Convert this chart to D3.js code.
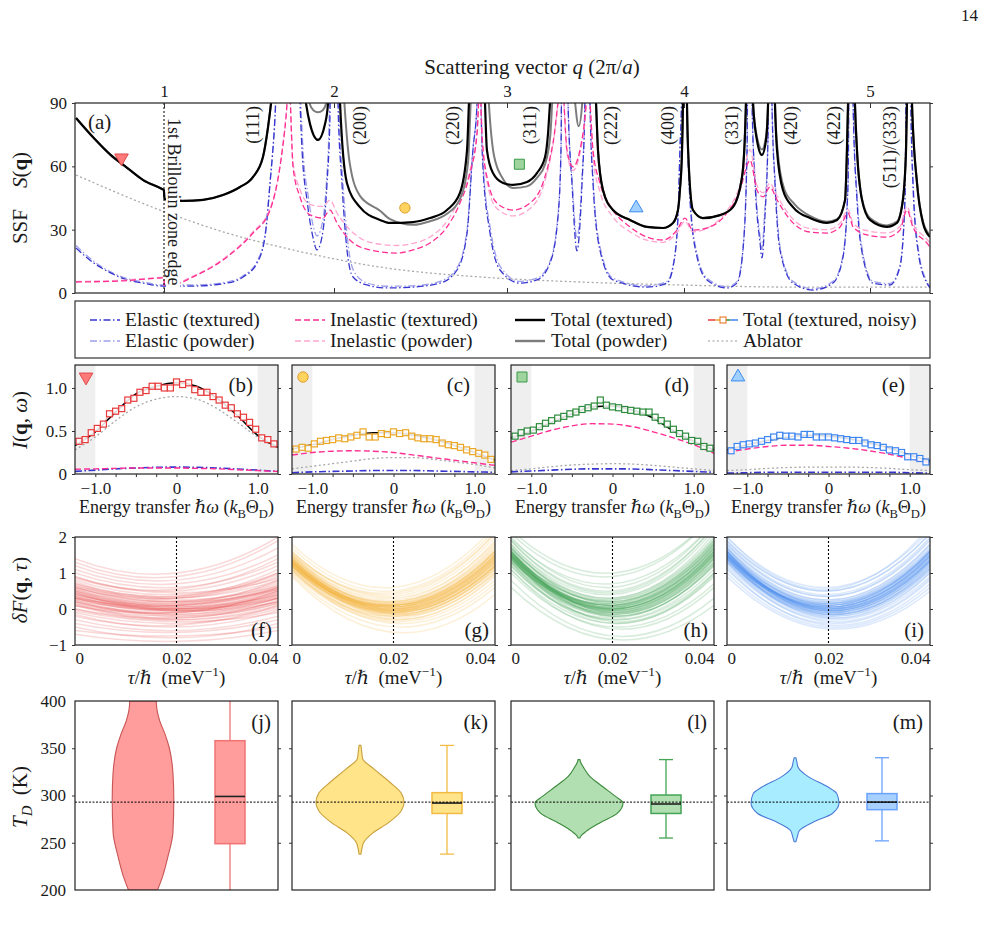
<!DOCTYPE html>
<html>
<meta charset="utf-8">
<style>
    body { margin: 0; background: #fff; }
    text { font-family: 'Liberation Serif', 'DejaVu Serif', serif; fill: #1a1a1a; }
    .tl { font-size: 17px; }
    .lab { font-size: 21px; }
    .leg { font-size: 19.5px; }
    .ann { font-size: 18px; }
    .xt { font-size: 18px; }
    .yt { font-size: 21px; }
</style>
<body>
<svg id="chart" width="985" height="930"></svg>
<script src="https://d3js.org/d3.v7.min.js"></script>
<script>

// ---------- (a) static structure factor, [q (2pi/a), S(q)] ----------
const qTicks = [1, 2, 3, 4, 5];
const ssfTicks = [0, 30, 60, 90];

const ablatorSSF = [[0.476,55.9],[0.976,39.3],[1.371,28.4],[1.759,20.4],[2.306,11.8],[2.844,7.6],[3.412,5.2],[3.977,3.8],[4.586,2.8],[5.323,2.8]];

const elasticTextured = [[0.476,21.3],[0.582,14.2],[0.682,9.5],[0.782,6.2],[0.876,4.7],[0.988,3.3],[1.171,3.3],[1.371,4.7],[1.465,7.6],[1.547,14.2],[1.594,26.5],[1.624,52.1],[1.653,83.4],[1.73,300],[1.8,90],[1.812,67.7],[1.841,44.1],[1.876,26.5],[1.9,20.4],[1.929,26.5],[1.959,52.1],[1.976,83.4],[2.0,300],[2.023,90],[2.046,52.1],[2.075,20.4],[2.11,7.6],[2.191,3.8],[2.306,2.4],[2.457,2.8],[2.613,4.7],[2.711,10.9],[2.769,28.4],[2.803,67.7],[2.827,90],[2.835,300],[2.85,90],[2.861,59.7],[2.902,28.4],[2.96,10.9],[3.073,4.7],[3.169,6.2],[3.243,14.2],[3.288,36],[3.305,67.7],[3.32,300],[3.345,90],[3.367,52.1],[3.395,20],[3.424,52.1],[3.44,90],[3.455,300],[3.469,90],[3.486,52.1],[3.525,20.4],[3.599,6.2],[3.791,2.8],[3.904,4.7],[3.938,12.3],[3.966,36],[3.977,67.7],[3.986,90],[4.0,300],[4.016,90],[4.032,44.1],[4.07,17.1],[4.124,6.2],[4.231,2.4],[4.285,4.7],[4.317,20.4],[4.339,67.7],[4.352,300],[4.366,90],[4.382,52.1],[4.409,23.7],[4.419,16.6],[4.435,36],[4.452,75.8],[4.465,300],[4.473,90],[4.489,52.1],[4.516,20.4],[4.586,4.7],[4.694,1.4],[4.801,4.7],[4.855,17.1],[4.882,52.1],[4.898,300],[4.909,90],[4.93,44.1],[4.962,17.1],[5.016,4.7],[5.108,3.8],[5.161,12.3],[5.188,44.1],[5.21,300],[5.22,90],[5.231,52.1],[5.258,20.4],[5.306,4.7],[5.323,2.4]];

const elasticPowder = [[0.476,22.5],[0.582,15],[0.682,10],[0.782,6.8],[0.876,5.2],[0.988,3.8],[1.171,3.8],[1.371,5.2],[1.465,8.2],[1.547,15],[1.594,27.5],[1.624,53],[1.653,84],[1.73,300],[1.805,90],[1.818,67.7],[1.848,46],[1.88,31],[1.9,27],[1.925,31],[1.955,52],[1.972,84],[2.0,300],[2.028,90],[2.052,52],[2.083,22],[2.12,9.5],[2.2,4.5],[2.306,3.2],[2.457,3.4],[2.613,5.5],[2.711,12],[2.769,30],[2.803,68],[2.827,90],[2.835,300],[2.85,90],[2.863,60],[2.905,30],[2.965,12],[3.073,5.5],[3.169,7],[3.243,15],[3.288,37],[3.305,68],[3.32,300],[3.345,90],[3.369,52],[3.395,26],[3.422,52],[3.44,90],[3.455,300],[3.469,90],[3.488,52],[3.528,21],[3.599,7],[3.791,3.4],[3.904,5.5],[3.938,13],[3.966,37],[3.977,68],[3.986,90],[4.0,300],[4.016,90],[4.034,44],[4.072,18],[4.124,7],[4.231,3],[4.285,5.5],[4.317,21],[4.339,68],[4.352,300],[4.366,90],[4.384,52],[4.41,26],[4.419,21],[4.432,36],[4.452,76],[4.465,300],[4.473,90],[4.491,52],[4.518,21],[4.586,5.5],[4.694,2],[4.801,5.5],[4.855,18],[4.882,52],[4.898,300],[4.909,90],[4.932,44],[4.964,18],[5.016,5.5],[5.108,4.5],[5.161,13],[5.188,44],[5.21,300],[5.22,90],[5.233,52],[5.26,21],[5.306,5.5],[5.323,3]];

const inelasticTextured = [[0.476,5.2],[0.741,5.7],[0.976,7.1],[0.999,7.2],[1.003,2.8],[1.171,7.6],[1.371,17.1],[1.524,28.4],[1.624,39.3],[1.682,59.7],[1.718,83.4],[1.735,100],[1.759,59.7],[1.8,45.5],[1.859,37],[1.935,35.5],[1.976,39.3],[2.017,33.2],[2.092,25.1],[2.208,20.4],[2.364,18.9],[2.457,20.4],[2.555,23.7],[2.653,31.3],[2.728,42.6],[2.786,56.8],[2.827,75.8],[2.844,100],[2.855,75.8],[2.884,55],[2.942,42.6],[3.034,39.3],[3.13,42.6],[3.203,52.1],[3.26,71.1],[3.311,100],[3.339,67.7],[3.373,59.7],[3.412,67.7],[3.441,83.4],[3.458,100],[3.486,67.7],[3.525,52.1],[3.599,39.3],[3.695,31.3],[3.791,26.5],[3.881,25.1],[3.96,29.8],[4.005,35.5],[4.048,29.8],[4.14,31.3],[4.231,37.9],[4.301,48.8],[4.344,61.6],[4.355,63],[4.392,48.8],[4.425,45.5],[4.462,50.2],[4.5,44.1],[4.586,33.2],[4.677,28.9],[4.769,28.4],[4.839,31.3],[4.882,37.9],[4.909,31.3],[4.984,27.5],[5.091,26.5],[5.161,29.8],[5.199,39.3],[5.231,31.3],[5.306,23.7],[5.323,21.8]];

const inelasticPowder = [[0.476,5.5],[0.741,6],[0.976,7.4],[0.999,7.5],[1.003,3.2],[1.171,8],[1.371,17.5],[1.524,29],[1.624,40],[1.682,60],[1.718,84],[1.735,100],[1.759,62],[1.8,49],[1.859,42],[1.935,41],[1.976,44],[2.017,38],[2.092,30],[2.208,24],[2.364,22.5],[2.457,23.5],[2.555,26.5],[2.653,34],[2.728,45],[2.786,58],[2.827,76],[2.844,100],[2.855,76],[2.884,53],[2.942,40],[3.034,36.5],[3.13,40],[3.203,50],[3.26,70],[3.311,100],[3.339,66],[3.373,58],[3.412,66],[3.441,82],[3.458,100],[3.486,64],[3.525,48],[3.599,36],[3.695,29],[3.791,25],[3.881,24],[3.96,28.5],[4.005,34],[4.048,29],[4.14,31.5],[4.231,39],[4.301,51],[4.344,66],[4.355,68],[4.392,51],[4.425,47.5],[4.462,52],[4.5,46],[4.586,35],[4.677,30.5],[4.769,30],[4.839,33],[4.882,39.5],[4.909,33],[4.984,29.5],[5.091,28.5],[5.161,31.5],[5.199,41],[5.231,33],[5.306,25.5],[5.323,23.5]];

const totalTextured = [[0.476,82.9],[0.582,73.4],[0.682,65.4],[0.782,59.2],[0.876,53.5],[0.988,49.3],[0.999,48.8],[1.003,44.5],[1.112,43.6],[1.229,44.1],[1.347,46.4],[1.447,50.2],[1.524,55],[1.582,64.4],[1.612,78.6],[1.635,93.8],[1.73,200],[1.835,90],[1.859,80],[1.906,72.5],[1.947,80],[1.965,90],[2.0,200],[2.035,90],[2.075,52],[2.15,40.7],[2.266,34.6],[2.324,33.2],[2.457,33.6],[2.555,35.5],[2.653,39.3],[2.728,47.4],[2.769,67.7],[2.78,90],[2.844,200],[2.873,90],[2.884,67.7],[2.919,56.8],[2.977,52.1],[3.034,51.2],[3.113,52.6],[3.169,56.8],[3.215,64.4],[3.232,75.8],[3.243,90],[3.384,200],[3.503,90],[3.514,67.7],[3.542,48.8],[3.599,39.3],[3.695,34.6],[3.791,31.3],[3.881,30.8],[3.938,33.2],[3.966,39.3],[3.977,48.8],[3.989,67.7],[3.994,90],[4.003,200],[4.016,90],[4.022,67.7],[4.048,39.3],[4.102,35.5],[4.194,36.9],[4.263,40.7],[4.312,55],[4.328,75.8],[4.333,90],[4.349,200],[4.371,90],[4.392,72.5],[4.419,65.4],[4.441,72.5],[4.452,90],[4.468,200],[4.489,90],[4.5,67.7],[4.532,48.8],[4.586,40.7],[4.677,35.5],[4.769,33.2],[4.823,34.6],[4.866,44.1],[4.876,67.7],[4.882,90],[4.898,200],[4.919,90],[4.93,67.7],[4.957,44.1],[5.0,34.6],[5.091,31.3],[5.145,33.2],[5.177,44.1],[5.194,67.7],[5.199,90],[5.212,200],[5.226,90],[5.253,52.1],[5.285,33.2],[5.323,26.5]];

const totalPowder = [[0.476,82.9],[0.582,73.4],[0.682,65.4],[0.782,59.2],[0.876,53.5],[0.988,49.3],[0.999,48.8],[1.003,44.5],[1.112,43.6],[1.229,44.1],[1.347,46.4],[1.447,50.2],[1.524,55],[1.582,64.4],[1.612,78.6],[1.635,93.8],[1.73,200],[1.855,90],[1.88,86.5],[1.906,85.6],[1.932,86.5],[1.955,90],[2.0,200],[2.06,90],[2.09,62],[2.15,46],[2.266,39],[2.324,35],[2.457,32.3],[2.555,34],[2.653,37.5],[2.728,44.5],[2.775,62],[2.79,90],[2.844,200],[2.895,90],[2.925,65],[2.977,54],[3.034,49.7],[3.113,50.5],[3.169,54.5],[3.215,61],[3.245,75],[3.255,90],[3.32,200],[3.385,90],[3.405,79],[3.425,90],[3.455,200],[3.503,90],[3.514,67.7],[3.542,49],[3.599,39.3],[3.695,34.6],[3.791,31.3],[3.881,30.8],[3.938,33.2],[3.966,39.3],[3.977,48.8],[3.989,67.7],[3.994,90],[4.003,200],[4.016,90],[4.022,67.7],[4.048,39.3],[4.102,35.5],[4.194,36.9],[4.263,40.7],[4.312,55],[4.328,75.8],[4.333,90],[4.349,200],[4.371,90],[4.392,74],[4.419,68],[4.441,74],[4.452,90],[4.468,200],[4.489,90],[4.503,67.7],[4.538,49.5],[4.595,42],[4.677,36.5],[4.769,33.8],[4.823,35],[4.866,44.1],[4.876,67.7],[4.882,90],[4.898,200],[4.919,90],[4.93,67.7],[4.957,44.5],[5.0,35.5],[5.091,32],[5.145,33.8],[5.177,44.1],[5.194,67.7],[5.199,90],[5.212,200],[5.226,90],[5.253,52.5],[5.285,34],[5.323,27.5]];

const braggLabels = ["(111)", "(200)", "(220)", "(311)", "(222)", "(400)", "(331)", "(420)", "(422)", "(511)/(333)"];
const braggLabelQ = [1.526, 2.153, 2.685, 3.13, 3.585, 3.907, 4.26, 4.577, 4.809, 5.108];
const ssfMarkers = [[0.747, 64], [2.41, 40.3], [3.07, 61], [3.73, 40.3]];

// ---------- (b)-(e) dynamic structure factor I(q, omega) ----------
const omegaCurve = [-1.25, -1, -0.75, -0.5, -0.25, 0, 0.25, 0.5, 0.75, 1, 1.25];
const omegaNoisy = [-1.2,-1.125,-1.05,-0.975,-0.9,-0.825,-0.75,-0.675,-0.6,-0.525,-0.45,-0.375,-0.3,-0.225,-0.15,-0.075,0,0.075,0.15,0.225,0.3,0.375,0.45,0.525,0.6,0.675,0.75,0.825,0.9,0.975,1.05,1.125,1.2];
const omegaTicks = [-1, -0.75, -0.5, -0.25, 0, 0.25, 0.5, 0.75, 1];
const iqwTicks = [0, 0.5, 1];

const iqwTotal = [
    [0.33,0.49,0.72,0.93,1.02,1.06,1.02,0.88,0.68,0.45,0.31],
    [0.29,0.34,0.40,0.45,0.48,0.48,0.45,0.40,0.33,0.25,0.16],
    [0.42,0.50,0.60,0.70,0.78,0.79,0.74,0.65,0.50,0.38,0.28],
    [0.28,0.34,0.39,0.43,0.45,0.44,0.41,0.36,0.30,0.22,0.15]
];
const iqwInelastic = [
    [0.055,0.06,0.065,0.07,0.07,0.07,0.065,0.06,0.05,0.04,0.03],
    [0.22,0.25,0.265,0.27,0.265,0.25,0.22,0.19,0.16,0.13,0.10],
    [0.37,0.44,0.51,0.56,0.585,0.58,0.55,0.49,0.42,0.34,0.24],
    [0.25,0.29,0.32,0.335,0.335,0.32,0.30,0.27,0.23,0.18,0.13]
];
const iqwElastic = [
    [0.03,0.045,0.06,0.07,0.078,0.08,0.078,0.07,0.058,0.045,0.03],
    [0.015,0.025,0.03,0.035,0.04,0.04,0.04,0.035,0.03,0.025,0.02],
    [0.025,0.035,0.045,0.055,0.06,0.06,0.058,0.05,0.04,0.03,0.02],
    [0.01,0.015,0.02,0.02,0.02,0.02,0.02,0.02,0.02,0.015,0.01]
];
const iqwAblator = [
    [0.28,0.43,0.62,0.78,0.87,0.90,0.87,0.76,0.60,0.43,0.30],
    [0.06,0.09,0.12,0.15,0.18,0.19,0.19,0.17,0.14,0.11,0.07],
    [0.04,0.06,0.085,0.105,0.115,0.12,0.115,0.1,0.08,0.06,0.04],
    [0.04,0.05,0.065,0.075,0.08,0.08,0.08,0.075,0.065,0.05,0.04]
];
const iqwNoisy = [
    [0.38,0.40,0.48,0.53,0.58,0.70,0.73,0.76,0.86,0.88,0.95,0.97,1.02,1.02,1.00,1.00,1.07,1.04,1.06,0.98,0.95,0.95,0.90,0.86,0.80,0.77,0.70,0.66,0.60,0.52,0.42,0.40,0.35],
    [0.29,0.31,0.30,0.35,0.38,0.39,0.40,0.42,0.41,0.43,0.45,0.49,0.43,0.43,0.47,0.46,0.49,0.47,0.48,0.44,0.42,0.41,0.41,0.40,0.36,0.34,0.33,0.31,0.28,0.26,0.24,0.22,0.17],
    [0.44,0.48,0.50,0.51,0.55,0.59,0.62,0.65,0.67,0.70,0.72,0.75,0.77,0.79,0.86,0.80,0.78,0.77,0.75,0.74,0.73,0.72,0.72,0.66,0.62,0.58,0.52,0.47,0.44,0.39,0.38,0.32,0.30],
    [0.27,0.32,0.34,0.35,0.36,0.38,0.40,0.43,0.45,0.44,0.44,0.43,0.46,0.46,0.43,0.43,0.43,0.42,0.41,0.40,0.39,0.39,0.36,0.34,0.33,0.31,0.28,0.27,0.25,0.20,0.20,0.18,0.14]
];

// ---------- (f)-(i) delta F(q, tau): each curve as [tau=0, tau=0.02, tau=0.04] ----------
const tauKnots = [0, 0.02, 0.04];
const tauTicks = [0, 0.02, 0.04];
const dfTicks = [-1, 0, 1, 2];
const deltaF_f = [[0.3,0.0,0.4],[0.5,0.1,0.6],[0.1,-0.2,0.2],[0.7,0.3,0.9],[-0.1,-0.4,0.0],[0.4,0.0,0.3],[0.9,0.5,1.2],[0.2,-0.1,0.5],[0.6,0.2,0.7],[-0.3,-0.6,-0.2],[1.1,0.7,1.5],[0.35,0.05,0.55],[0.0,-0.3,0.1],[0.8,0.4,1.0],[0.45,0.0,0.35],[-0.5,-0.8,-0.4],[1.3,0.9,1.9],[0.25,-0.15,0.3],[0.55,0.15,0.8],[0.15,-0.25,0.25],[0.65,0.25,0.65],[-0.2,-0.45,0.1],[1.0,0.6,1.3],[0.3,-0.05,0.45],[0.5,0.05,0.5],[-0.05,-0.35,-0.1],[0.75,0.35,1.1],[0.4,0.1,0.6],[0.2,-0.2,0.15],[-0.7,-0.9,-0.6],[0.85,0.45,0.85],[0.1,-0.1,0.4],[0.6,0.3,1.0],[0.35,-0.05,0.2],[1.2,0.8,1.7],[-0.4,-0.65,-0.3],
    [0.3,-0.05,0.35],[0.45,0.1,0.55],[0.2,-0.1,0.3],[0.55,0.2,0.75],[0.0,-0.25,0.15],[0.35,0.0,0.45],[0.65,0.3,0.8],[0.25,0.0,0.5],[0.5,0.15,0.6],[0.15,-0.15,0.2],[0.4,0.05,0.4],[0.7,0.35,0.95],[-0.15,-0.5,-0.05],[0.9,0.55,1.4],[0.3,0.1,0.65],[0.1,-0.3,0.05],[0.6,0.2,0.55],[-0.6,-0.75,-0.5],[1.4,1.0,2.0],[0.45,-0.05,0.3]];
const deltaF_g = [[1.3,0.0,1.4],[1.2,-0.1,1.2],[1.4,0.1,1.6],[1.1,-0.2,1.0],[1.5,0.2,1.8],[1.25,0.05,1.5],[1.35,-0.05,1.3],[1.0,-0.35,0.8],[1.6,0.35,2.0],[1.3,0.15,1.7],[1.15,-0.15,1.1],[1.45,0.0,1.35],[1.2,0.1,1.55],[1.05,-0.3,0.9],[1.55,0.25,1.9],[1.3,-0.1,1.25],[1.4,0.05,1.45],[0.95,-0.5,0.6],[1.7,0.5,2.2],[1.25,-0.05,1.35],[1.35,0.2,1.65],[1.1,-0.25,1.05],[1.5,0.1,1.5],[1.2,0.0,1.3],[1.3,0.05,1.5],[0.9,-0.65,0.4],[1.4,-0.05,1.2],[1.6,0.4,2.1],[1.15,-0.1,1.2],[1.3,0.1,1.45],[1.05,-0.2,1.15],[1.45,0.15,1.6],[1.25,-0.2,1.0],[1.8,0.6,2.3],[1.2,0.05,1.4],[1.35,-0.15,1.15],
    [1.3,0.05,1.45],[1.25,-0.05,1.3],[1.35,0.1,1.55],[1.2,-0.1,1.2],[1.4,0.0,1.4],[1.3,0.0,1.35],[1.25,0.1,1.6],[1.35,-0.1,1.2],[1.45,0.2,1.75],[1.15,-0.05,1.3],[1.3,-0.05,1.25],[1.4,0.15,1.6],[1.2,-0.3,0.95],[1.5,0.3,1.85],[1.25,0.0,1.45],[1.35,0.05,1.4],[1.1,-0.4,0.7],[1.55,0.45,2.1],[1.3,0.1,1.5],[1.2,-0.15,1.1]];
const deltaF_h = [[1.5,0.0,1.6],[1.4,-0.1,1.4],[1.7,0.2,1.9],[1.2,-0.3,1.1],[1.9,0.45,2.3],[1.55,0.05,1.7],[1.6,-0.05,1.5],[1.0,-0.5,0.7],[2.0,0.6,2.4],[1.45,0.1,1.8],[1.3,-0.2,1.2],[1.65,0.0,1.55],[1.35,0.15,1.85],[1.1,-0.4,0.9],[1.8,0.3,2.1],[1.5,-0.15,1.35],[1.6,0.1,1.7],[0.8,-0.75,0.3],[2.1,0.9,2.6],[1.45,-0.05,1.5],[1.55,0.25,1.95],[1.25,-0.3,1.0],[1.75,0.15,1.8],[1.4,0.0,1.5],[1.5,0.1,1.65],[0.6,-0.85,0.1],[1.65,-0.1,1.4],[1.9,0.5,2.3],[1.3,-0.15,1.3],[1.55,0.2,1.75],[1.2,-0.25,1.25],[1.7,0.25,1.9],[1.45,-0.35,1.0],[2.2,1.0,2.6],[1.35,0.05,1.6],[1.6,-0.2,1.25],
    [1.5,0.05,1.65],[1.45,-0.05,1.5],[1.6,0.1,1.75],[1.4,-0.15,1.3],[1.55,0.0,1.6],[1.5,0.0,1.55],[1.45,0.15,1.8],[1.6,-0.1,1.4],[1.7,0.3,2.0],[1.35,-0.1,1.45],[1.5,-0.05,1.45],[1.6,0.2,1.85],[1.3,-0.4,0.95],[1.8,0.4,2.2],[1.45,0.0,1.6],[1.55,0.05,1.55],[1.1,-0.55,0.6],[1.95,0.7,2.4],[1.5,0.1,1.7],[1.4,-0.2,1.2]];
const deltaF_i = [[1.5,0.0,1.4],[1.4,-0.1,1.25],[1.65,0.15,1.6],[1.25,-0.25,1.0],[1.8,0.35,1.9],[1.55,0.05,1.5],[1.6,-0.05,1.35],[1.1,-0.4,0.8],[1.9,0.5,2.1],[1.45,0.1,1.6],[1.35,-0.15,1.1],[1.6,0.0,1.45],[1.4,0.1,1.55],[1.2,-0.3,0.9],[1.75,0.25,1.8],[1.5,-0.1,1.3],[1.55,0.05,1.55],[1.0,-0.5,0.6],[2.0,0.6,2.2],[1.45,-0.05,1.35],[1.6,0.2,1.7],[1.3,-0.2,1.05],[1.7,0.1,1.6],[1.5,0.0,1.35],[1.5,0.05,1.5],[0.9,-0.55,0.5],[1.65,-0.05,1.3],[1.85,0.4,2.0],[1.35,-0.1,1.2],[1.55,0.15,1.6],[1.3,-0.15,1.15],[1.7,0.2,1.75],[1.45,-0.25,1.0],[2.0,0.55,2.3],[1.4,0.05,1.45],[1.6,-0.15,1.2],
    [1.5,0.05,1.45],[1.45,-0.05,1.35],[1.6,0.1,1.6],[1.4,-0.15,1.15],[1.55,0.0,1.45],[1.5,0.0,1.4],[1.45,0.15,1.65],[1.6,-0.1,1.25],[1.7,0.25,1.8],[1.35,-0.05,1.3],[1.5,-0.05,1.35],[1.6,0.15,1.65],[1.3,-0.35,0.85],[1.8,0.35,1.95],[1.45,0.0,1.5],[1.55,0.05,1.5],[1.15,-0.45,0.7],[1.9,0.5,2.1],[1.5,0.1,1.55],[1.4,-0.2,1.1]];

// ---------- (j)-(m) Debye temperature T_D: violin [T, relative density], box stats ----------
const tdTicks = [200, 250, 300, 350, 400];
const tdReference = 293;
const violinJ = [[200,0.33],[215,0.45],[236,0.57],[261,0.68],[296,0.70],[324,0.68],[350,0.6],[365,0.5],[379,0.38],[390,0.32],[400,0.3]];
const violinK = [[238,0.02],[245,0.05],[250,0.08],[260,0.28],[271,0.64],[282,0.91],[293,1.0],[303,0.93],[314,0.68],[328,0.32],[339,0.06],[346,0.04],[353,0.02]];
const violinL = [[255,0.02],[258,0.06],[262,0.16],[271,0.47],[281,0.87],[292,1.0],[299,0.83],[309,0.55],[320,0.25],[330,0.1],[335,0.04],[338,0.02]];
const violinM = [[251,0.02],[256,0.05],[263,0.1],[272,0.42],[281,0.85],[292,1.0],[302,0.95],[309,0.75],[320,0.3],[330,0.07],[336,0.04],[340,0.02]];
// [whisker low, q1, median, q3, whisker high]
const boxJ = [185, 249, 299, 358, 415];
const boxK = [238, 281, 292, 303, 353];
const boxL = [255, 281, 291, 300.5, 338];
const boxM = [252, 285, 293, 302, 340];

const legendRows = [
    ["Elastic (textured)", "Inelastic (textured)", "Total (textured)", "Total (textured, noisy)"],
    ["Elastic (powder)", "Inelastic (powder)", "Total (powder)", "Ablator"]
];

// ---------- styling ----------
const blueDark = "#3636cf", blueLight = "#a0a0ea", pinkDark = "#ff2f93", pinkLight = "#ffa6d0";
const dashDot = "7,2.5,1.5,2.5", dashed = "6,3", dotted = "2,2.5";
const panelColors = ["#e8393b", "#eba726", "#2e8b3e", "#3d86f2"];
const markerFill = ["#ff7a7a", "#ffd45e", "#9fd49f", "#9fd0ff"];
const markerStroke = ["#e04848", "#e0a030", "#3a9a4a", "#3a8cf0"];
const lineColors = ["#e5403f", "#f4b23a", "#3e9e4e", "#4f8ff0"];
const violinFill = ["#ff9c9c", "#ffe48a", "#b2dfb2", "#a8ecff"];
const violinStroke = ["#c85454", "#c9a03c", "#3b8a3b", "#4a7ad6"];
const boxFill = ["#ff9c9c", "#ffe48a", "#b2dfb2", "#a8d0ff"];
const boxStroke = ["#f07474", "#f2bb44", "#44a455", "#6aa2ff"];

const svg = d3.select("#chart");
svg.append("rect").attr("width", 985).attr("height", 930).attr("fill", "#fff");

function rich(textSel, parts, fs) {
    let shift = 0;
    parts.forEach(part => {
        const str = Array.isArray(part) ? part[0] : part;
        const st = Array.isArray(part) ? part[1] : "";
        const ts = textSel.append("tspan").text(str);
        if (st.includes("i")) ts.attr("font-style", "italic");
        if (st.includes("b")) ts.attr("font-weight", "bold");
        let target = 0;
        if (st.includes("_")) { target = 0.25 * fs; ts.attr("font-size", 0.7 * fs); }
        if (st.includes("^")) { target = -0.4 * fs; ts.attr("font-size", 0.7 * fs); }
        if (target !== shift) { ts.attr("dy", target - shift); shift = target; }
    });
    return textSel;
}

function addClip(id, x, y, w, h) {
    svg.append("clipPath").attr("id", id).append("rect")
        .attr("x", x).attr("y", y).attr("width", w).attr("height", h);
    return "url(#" + id + ")";
}

function frame(x, y, w, h) {
    svg.append("rect").attr("x", x).attr("y", y).attr("width", w).attr("height", h)
        .attr("fill", "none").attr("stroke", "#222").attr("stroke-width", 1.2);
}

function styleAxis(g) {
    g.attr("font-family", null).attr("font-size", null);
    g.select(".domain").remove();
    g.selectAll(".tick line").attr("stroke", "#333");
    g.selectAll(".tick text").attr("class", "tl");
    return g;
}

function marker(sel, i, x, y) {
    const types = [d3.symbolTriangle, d3.symbolCircle, d3.symbolSquare, d3.symbolTriangle];
    const sizes = [80, 85, 100, 80];
    sel.append("path")
        .attr("d", d3.symbol(types[i], sizes[i]))
        .attr("transform", "translate(" + x + "," + y + ")" + (i === 0 ? " rotate(180)" : ""))
        .attr("fill", markerFill[i]).attr("stroke", markerStroke[i]).attr("stroke-width", 1);
}

function yTitle(y, parts) {
    const t = svg.append("text").attr("class", "yt").attr("text-anchor", "middle")
        .attr("transform", "translate(27," + y + ") rotate(-90)");
    rich(t, parts, 21);
}

// page number
svg.append("text").attr("x", 978).attr("y", 21).attr("text-anchor", "end")
    .style("font-size", "17px").text("14");

// ================= (a) =================
const A = {x: 75, y: 103, w: 855, h: 190};
const qScale = d3.scaleLinear()
    .domain([0.47, 1, 2, 3, 4, 5, 5.323])
    .range([0, 89, 259, 432, 609, 795, 855].map(v => A.x + v));
const sScale = d3.scaleLinear().domain([0, 90]).range([A.y + A.h, A.y]);

const gA = svg.append("g").attr("clip-path", addClip("clipA", A.x, A.y, A.w, A.h));
const ssfLine = d3.line().x(d => qScale(d[0])).y(d => sScale(d[1])).curve(d3.curveMonotoneX);
[
    [ablatorSSF, "#a8a8a8", 1.3, dotted],
    [elasticPowder, blueLight, 1.3, dashDot],
    [elasticTextured, blueDark, 1.3, dashDot],
    [inelasticPowder, pinkLight, 1.3, dashed],
    [inelasticTextured, pinkDark, 1.3, dashed],
    [totalPowder, "#7c7c7c", 2, null],
    [totalTextured, "#000", 2.2, null]
].forEach(([data, color, w, dash]) => {
    gA.append("path").datum(data).attr("d", ssfLine).attr("fill", "none")
        .attr("stroke", color).attr("stroke-width", w).attr("stroke-dasharray", dash);
});

gA.append("line").attr("x1", qScale(1)).attr("x2", qScale(1)).attr("y1", A.y).attr("y2", A.y + A.h)
    .attr("stroke", "#000").attr("stroke-width", 1).attr("stroke-dasharray", "2,2");
svg.append("rect").attr("x", qScale(1) + 2).attr("y", 116).attr("width", 14).attr("height", 172).attr("fill", "#fff");
svg.append("text").attr("class", "ann")
    .attr("transform", "translate(" + (qScale(1) + 4) + ",118) rotate(90)")
    .text("1st Brillouin zone edge");

braggLabels.forEach((lab, i) => {
    svg.append("text").attr("class", "ann").attr("text-anchor", "end")
        .attr("transform", "translate(" + (qScale(braggLabelQ[i]) + 6) + ",106) rotate(-90)")
        .text(lab);
});

ssfMarkers.forEach((m, i) => marker(svg, i, qScale(m[0]), sScale(m[1])));

svg.append("text").attr("class", "lab").attr("x", 88).attr("y", 129).text("(a)");
frame(A.x, A.y, A.w, A.h);

styleAxis(svg.append("g").attr("transform", "translate(0," + A.y + ")")
    .call(d3.axisTop(qScale).tickValues(qTicks).tickSize(-5).tickPadding(6).tickFormat(d3.format("d"))));
styleAxis(svg.append("g").attr("transform", "translate(0," + (A.y + A.h) + ")")
    .call(d3.axisBottom(qScale).tickValues(qTicks).tickSize(-5).tickFormat("")));
styleAxis(svg.append("g").attr("transform", "translate(" + A.x + ",0)")
    .call(d3.axisLeft(sScale).tickValues(ssfTicks).tickSize(3).tickPadding(5)));
styleAxis(svg.append("g").attr("transform", "translate(" + (A.x + A.w) + ",0)")
    .call(d3.axisRight(sScale).tickValues(ssfTicks).tickSize(3).tickFormat("")));

rich(svg.append("text").attr("x", 532).attr("y", 74).attr("text-anchor", "middle").style("font-size", "21px"),
    ["Scattering vector ", ["q", "i"], " (2π/", ["a", "i"], ")"], 21);
yTitle(198, ["SSF\u2003", ["S", "i"], "(", ["q", "b"], ")"]);

// ================= legend =================
svg.append("rect").attr("x", 75).attr("y", 301).attr("width", 855).attr("height", 57)
    .attr("fill", "#fff").attr("stroke", "#333").attr("stroke-width", 1.2);
const legLineX = [90, 295, 515, 708];
const legTextX = [125, 330, 551, 743];
const legRowY = [320, 341];
const legStyle = [
    [[blueDark, 1.4, dashDot], [pinkDark, 1.4, dashed], ["#000", 2.4, null], null],
    [[blueLight, 1.4, dashDot], [pinkLight, 1.4, dashed], ["#7c7c7c", 2.4, null], ["#9a9a9a", 1.2, dotted]]
];
legendRows.forEach((row, r) => {
    row.forEach((label, c) => {
        const y = legRowY[r], x0 = legLineX[c];
        const st = legStyle[r][c];
        if (st) {
            svg.append("line").attr("x1", x0).attr("x2", x0 + 30).attr("y1", y).attr("y2", y)
                .attr("stroke", st[0]).attr("stroke-width", st[1]).attr("stroke-dasharray", st[2]);
        } else {
            panelColors.forEach((col, k) => {
                svg.append("line").attr("x1", x0 + k * 7.5).attr("x2", x0 + (k + 1) * 7.5)
                    .attr("y1", y).attr("y2", y).attr("stroke", col).attr("stroke-width", 1.5);
            });
            svg.append("rect").attr("x", x0 + 12).attr("y", y - 3).attr("width", 6).attr("height", 6)
                .attr("fill", "#fff").attr("stroke", "#e87a20").attr("stroke-width", 1.1);
        }
        svg.append("text").attr("class", "leg").attr("x", legTextX[c]).attr("y", y + 6).text(label);
    });
});

// ================= (b)-(e) =================
const colX = [75, 292, 511, 727], colW = 203;
const rowB = {y: 365, h: 109};
const fmt1 = d => d === 0 ? "0" : d3.format(".1f")(d);
colX.forEach((x0, p) => {
    const x = d3.scaleLinear().domain([-1.25, 1.25]).range([x0, x0 + colW]);
    const y = d3.scaleLinear().domain([0, 1.267]).range([rowB.y + rowB.h, rowB.y]);
    const g = svg.append("g").attr("clip-path", addClip("clipB" + p, x0, rowB.y, colW, rowB.h));
    g.append("rect").attr("x", x(-1.25)).attr("width", x(-1) - x(-1.25))
        .attr("y", rowB.y).attr("height", rowB.h).attr("fill", "#efefef");
    g.append("rect").attr("x", x(1)).attr("width", x(1.25) - x(1))
        .attr("y", rowB.y).attr("height", rowB.h).attr("fill", "#efefef");
    const line = d3.line().x((d, i) => x(omegaCurve[i])).y(d => y(d)).curve(d3.curveMonotoneX);
    [
        [iqwAblator[p], "#a8a8a8", 1.3, dotted],
        [iqwElastic[p], blueDark, 1.6, dashDot],
        [iqwInelastic[p], pinkDark, 1.4, dashed],
        [iqwTotal[p], "#000", 1.6, null]
    ].forEach(([data, color, w, dash]) => {
        g.append("path").datum(data).attr("d", line).attr("fill", "none")
            .attr("stroke", color).attr("stroke-width", w).attr("stroke-dasharray", dash);
    });
    const noisyLine = d3.line().x((d, i) => x(omegaNoisy[i])).y(d => y(d));
    g.append("path").datum(iqwNoisy[p]).attr("d", noisyLine).attr("fill", "none")
        .attr("stroke", panelColors[p]).attr("stroke-width", 0.8).attr("stroke-opacity", 0.7);
    g.selectAll("rect.sq").data(iqwNoisy[p]).enter().append("rect").attr("class", "sq")
        .attr("x", (d, i) => x(omegaNoisy[i]) - 3).attr("y", d => y(d) - 3)
        .attr("width", 6).attr("height", 6)
        .attr("fill", "#fff").attr("fill-opacity", 0.85)
        .attr("stroke", panelColors[p]).attr("stroke-width", 1.2);

    marker(svg, p, x0 + 11, rowB.y + 12);
    svg.append("text").attr("class", "lab").attr("text-anchor", "end")
        .attr("x", x0 + colW - 25).attr("y", 392).text("(" + "bcde"[p] + ")");
    frame(x0, rowB.y, colW, rowB.h);

    styleAxis(svg.append("g").attr("transform", "translate(0," + (rowB.y + rowB.h) + ")")
        .call(d3.axisBottom(x).tickValues(omegaTicks).tickSize(3).tickPadding(5)
            .tickFormat(d => [-1, 0, 1].includes(d) ? fmt1(d) : "")));
    styleAxis(svg.append("g").attr("transform", "translate(" + x0 + ",0)")
        .call(d3.axisLeft(y).tickValues(iqwTicks).tickSize(3).tickPadding(5)
            .tickFormat(p === 0 ? fmt1 : "")));
    styleAxis(svg.append("g").attr("transform", "translate(" + (x0 + colW) + ",0)")
        .call(d3.axisRight(y).tickValues(iqwTicks).tickSize(3).tickFormat("")));

    rich(svg.append("text").attr("class", "xt").attr("x", x0 + colW / 2).attr("y", 513).attr("text-anchor", "middle"),
        ["Energy transfer ", ["ℏω", "i"], " (", ["k", "i"], ["B", "_"], "Θ", ["D", "_"], ")"], 18);
});
yTitle(420, [["I", "i"], "(", ["q", "b"], ", ", ["ω", "i"], ")"]);

// ================= (f)-(i) =================
const rowF = {y: 537, h: 108};
const deltaFSets = [deltaF_f, deltaF_g, deltaF_h, deltaF_i];
colX.forEach((x0, p) => {
    const x = d3.scaleLinear().domain([0, 0.04]).range([x0, x0 + colW]);
    const y = d3.scaleLinear().domain([-1, 2]).range([rowF.y + rowF.h, rowF.y]);
    const g = svg.append("g").attr("clip-path", addClip("clipF" + p, x0, rowF.y, colW, rowF.h));
    deltaFSets[p].forEach(tr => {
        const p0 = [x(tauKnots[0]), y(tr[0])], p1 = [x(tauKnots[1]), y(tr[1])], p2 = [x(tauKnots[2]), y(tr[2])];
        const path = d3.path();
        path.moveTo(p0[0], p0[1]);
        path.quadraticCurveTo(2 * p1[0] - (p0[0] + p2[0]) / 2, 2 * p1[1] - (p0[1] + p2[1]) / 2, p2[0], p2[1]);
        g.append("path").attr("d", path.toString()).attr("fill", "none")
            .attr("stroke", lineColors[p]).attr("stroke-width", 1.5).attr("stroke-opacity", 0.2);
    });
    g.append("line").attr("x1", x(0.02)).attr("x2", x(0.02)).attr("y1", rowF.y).attr("y2", rowF.y + rowF.h)
        .attr("stroke", "#000").attr("stroke-width", 1.1).attr("stroke-dasharray", "2,2");
    svg.append("text").attr("class", "lab").attr("text-anchor", "end")
        .attr("x", x0 + colW - 6).attr("y", 637).text("(" + "fghi"[p] + ")");
    frame(x0, rowF.y, colW, rowF.h);

    const bx = styleAxis(svg.append("g").attr("transform", "translate(0," + (rowF.y + rowF.h) + ")")
        .call(d3.axisBottom(x).tickValues(tauTicks).tickSize(0).tickPadding(7)
            .tickFormat(d => d === 0 ? "0" : d3.format(".2f")(d))));
    bx.selectAll(".tick text").attr("text-anchor", (d, i) => i === 0 ? "start" : (i === 2 ? "end" : "middle"));
    styleAxis(svg.append("g").attr("transform", "translate(" + x0 + ",0)")
        .call(d3.axisLeft(y).tickValues(dfTicks).tickSize(3).tickPadding(5)
            .tickFormat(p === 0 ? d3.format("d") : "")));
    styleAxis(svg.append("g").attr("transform", "translate(" + (x0 + colW) + ",0)")
        .call(d3.axisRight(y).tickValues(dfTicks).tickSize(3).tickFormat("")));

    rich(svg.append("text").attr("x", x0 + colW / 2).attr("y", 684).attr("text-anchor", "middle").style("font-size", "19px"),
        [["τ", "i"], "/", ["ℏ", "i"], "\u2002(meV", ["−1", "^"], ")"], 19);
});
yTitle(590, [["δF", "i"], "(", ["q", "b"], ", ", ["τ", "i"], ")"]);

// ================= (j)-(m) =================
const rowJ = {y: 701, h: 189};
const violins = [violinJ, violinK, violinL, violinM];
const boxes = [boxJ, boxK, boxL, boxM];
const widthScale = d3.scaleLinear().domain([0, 1]).range([0, 44]);
colX.forEach((x0, p) => {
    const y = d3.scaleLinear().domain([200, 400]).range([rowJ.y + rowJ.h, rowJ.y]);
    const cv = x0 + 68, cb = x0 + 155;
    const g = svg.append("g").attr("clip-path", addClip("clipJ" + p, x0, rowJ.y, colW, rowJ.h));
    const area = d3.area().y(d => y(d[0]))
        .x0(d => cv - widthScale(d[1])).x1(d => cv + widthScale(d[1]))
        .curve(d3.curveMonotoneY);
    g.append("path").datum(violins[p]).attr("d", area)
        .attr("fill", violinFill[p]).attr("stroke", violinStroke[p]).attr("stroke-width", 1.1);

    const [lo, q1, med, q3, hi] = boxes[p];
    g.append("line").attr("x1", cb).attr("x2", cb).attr("y1", y(lo)).attr("y2", y(hi))
        .attr("stroke", boxStroke[p]).attr("stroke-width", 1.3);
    [lo, hi].forEach(v => g.append("line").attr("x1", cb - 7).attr("x2", cb + 7).attr("y1", y(v)).attr("y2", y(v))
        .attr("stroke", boxStroke[p]).attr("stroke-width", 1.3));
    g.append("rect").attr("x", cb - 15).attr("width", 30).attr("y", y(q3)).attr("height", y(q1) - y(q3))
        .attr("fill", boxFill[p]).attr("stroke", boxStroke[p]).attr("stroke-width", 1.5);
    g.append("line").attr("x1", cb - 15).attr("x2", cb + 15).attr("y1", y(med)).attr("y2", y(med))
        .attr("stroke", "#222").attr("stroke-width", 1.6);
    g.append("line").attr("x1", x0).attr("x2", x0 + colW).attr("y1", y(tdReference)).attr("y2", y(tdReference))
        .attr("stroke", "#000").attr("stroke-width", 1).attr("stroke-dasharray", "2,1.5");

    svg.append("text").attr("class", "lab").attr("text-anchor", "end")
        .attr("x", x0 + colW - 7).attr("y", 729).text("(" + "jklm"[p] + ")");
    frame(x0, rowJ.y, colW, rowJ.h);

    const ly = styleAxis(svg.append("g").attr("transform", "translate(" + x0 + ",0)")
        .call(d3.axisLeft(y).tickValues(tdTicks).tickSize(3).tickPadding(6)
            .tickFormat(p === 0 ? d3.format("d") : "")));
    ly.selectAll(".tick line").filter(d => d === 200 || d === 400).remove();
    const ry = styleAxis(svg.append("g").attr("transform", "translate(" + (x0 + colW) + ",0)")
        .call(d3.axisRight(y).tickValues(tdTicks).tickSize(3).tickFormat("")));
    ry.selectAll(".tick line").filter(d => d === 200 || d === 400).remove();
});
yTitle(797, [["T", "i"], ["D", "i_"], "\u2002(K)"]);

</script>
</body>
</html>
